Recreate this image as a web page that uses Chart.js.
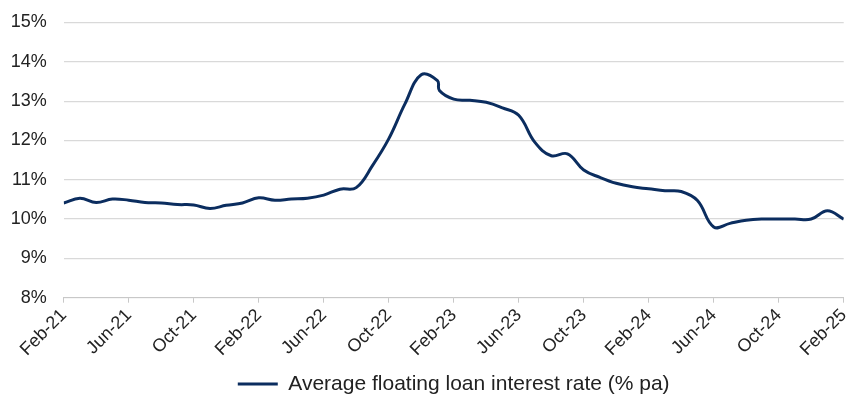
<!DOCTYPE html>
<html>
<head>
<meta charset="utf-8">
<script src="https://cdn.jsdelivr.net/npm/chart.js@4/dist/chart.umd.min.js"></script>
<style>
  html, body { margin: 0; padding: 0; background: #ffffff; }
  #wrap { position: relative; width: 854px; height: 394px; }
</style>
</head>
<body>
<div id="wrap"><canvas id="chart" width="854" height="394"></canvas></div>
<script>
// Month labels, Feb-21 .. Feb-25 (axis ticks every fourth month)
const months = [
  'Feb-21','Mar-21','Apr-21','May-21','Jun-21','Jul-21','Aug-21','Sep-21','Oct-21','Nov-21','Dec-21','Jan-22',
  'Feb-22','Mar-22','Apr-22','May-22','Jun-22','Jul-22','Aug-22','Sep-22','Oct-22','Nov-22','Dec-22','Jan-23',
  'Feb-23','Mar-23','Apr-23','May-23','Jun-23','Jul-23','Aug-23','Sep-23','Oct-23','Nov-23','Dec-23','Jan-24',
  'Feb-24','Mar-24','Apr-24','May-24','Jun-24','Jul-24','Aug-24','Sep-24','Oct-24','Nov-24','Dec-24','Jan-25',
  'Feb-25'
];

// Observation position in months since Feb-21 (one extra reading early Feb-23)
const obsMonth = [
  0, 1, 2, 3, 4, 5, 6, 7, 8, 9, 10, 11,
  12, 13, 14, 15, 16, 17, 18, 19, 20, 21, 22, 23, 23.12,
  24, 25, 26, 27, 28, 29, 30, 31, 32, 33, 34, 35,
  36, 37, 38, 39, 40, 41, 42, 43, 44, 45, 46, 47,
  48
];

// Average floating loan interest rate (% pa)
const rates = [
  10.41, 10.53, 10.42, 10.51, 10.48, 10.42, 10.41, 10.37, 10.36, 10.27, 10.35, 10.41,
  10.54, 10.48, 10.51, 10.53, 10.61, 10.76, 10.80, 11.36, 12.04, 12.93, 13.67, 13.52, 13.27,
  13.05, 13.02, 12.97, 12.83, 12.64, 11.95, 11.61, 11.66, 11.25, 11.06, 10.91, 10.82,
  10.77, 10.72, 10.70, 10.47, 9.80, 9.89, 9.97, 10.00, 10.00, 10.00, 10.00, 10.21,
  10.00
];

const seriesName = 'Average floating loan interest rate (% pa)';
const yMin = 8, yMax = 15, yStep = 1;
const xStep = 4;

const FONT = '"Liberation Sans", Arial, sans-serif';
const TEXT = '#222222';
const LINE = '#0b2d5f';

const points = obsMonth.map((m, i) => ({ x: m, y: rates[i] }));

new Chart(document.getElementById('chart'), {
  type: 'line',
  data: {
    datasets: [{
      label: seriesName,
      data: points,
      borderColor: LINE,
      backgroundColor: LINE,
      borderWidth: 3,
      pointRadius: 0,
      pointHoverRadius: 0,
      pointStyle: 'line',
      tension: 0.4,
      fill: false
    }]
  },
  options: {
    responsive: false,
    animation: false,
    events: [],
    layout: { padding: { top: 22.5, right: 10.3, bottom: -10.5, left: 0 } },
    plugins: {
      tooltip: { enabled: false },
      legend: {
        position: 'bottom',
        fullSize: false,
        labels: {
          usePointStyle: true,
          pointStyle: 'line',
          pointStyleWidth: 40,
          padding: 4,
          color: TEXT,
          font: { family: FONT, size: 21 }
        }
      }
    },
    scales: {
      x: {
        type: 'linear',
        min: 0,
        max: months.length - 1,
        afterFit: (scale) => {
          scale.height = 71.8;
          scale.paddingLeft = 0;
          scale.paddingRight = 0;
        },
        ticks: {
          stepSize: xStep,
          autoSkip: false,
          maxRotation: 45,
          minRotation: 45,
          padding: 2,
          color: TEXT,
          font: { family: FONT, size: 18 },
          callback: (v) => months[v]
        },
        grid: {
          drawOnChartArea: false,
          drawTicks: true,
          tickLength: 5,
          color: '#c8c8c8'
        },
        border: { display: true, color: '#c8c8c8', width: 1 }
      },
      y: {
        min: yMin,
        max: yMax,
        afterFit: (scale) => {
          scale.width = 63.7;
          scale.paddingTop = 0;
          scale.paddingBottom = 0;
        },
        ticks: {
          stepSize: yStep,
          padding: 17,
          color: TEXT,
          font: { family: FONT, size: 18 },
          callback: (v) => v + '%'
        },
        grid: { color: '#d9d9d9', lineWidth: 1.2, drawTicks: false },
        border: { display: false }
      }
    }
  }
});
</script>
</body>
</html>
